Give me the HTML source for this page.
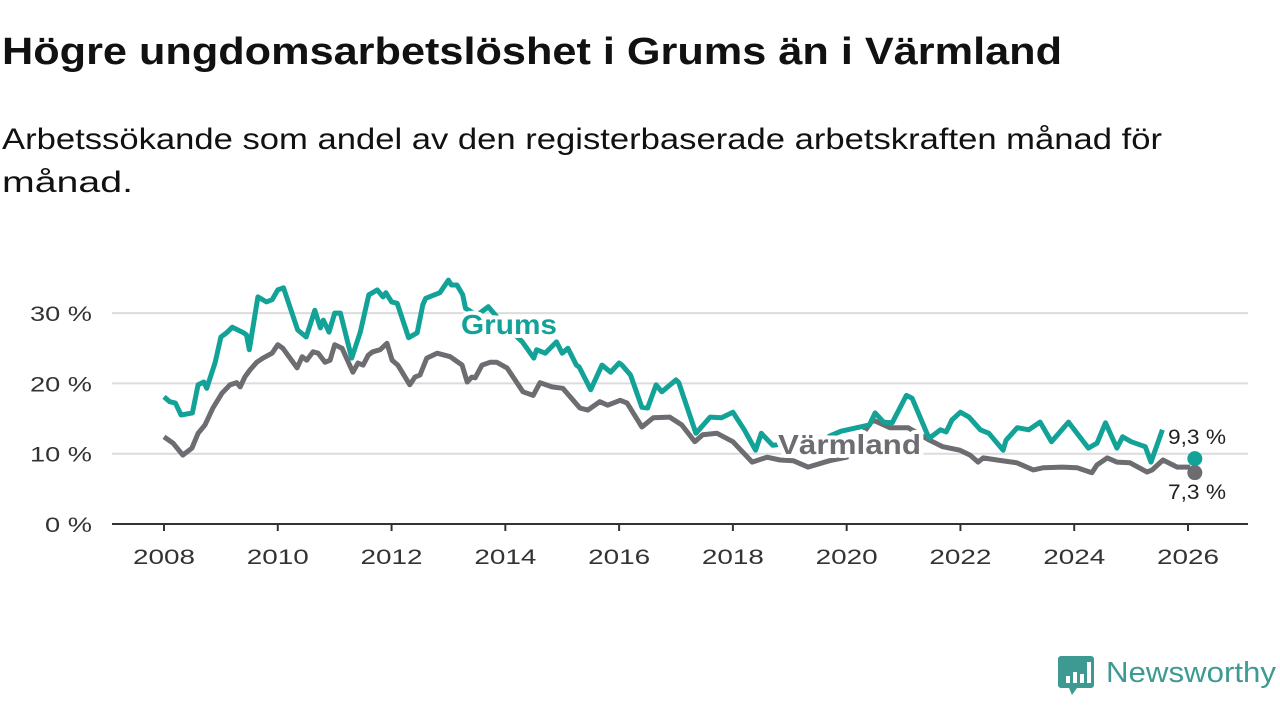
<!DOCTYPE html>
<html><head><meta charset="utf-8"><style>
html,body{margin:0;padding:0;background:#fff;width:1280px;height:720px;overflow:hidden}
svg text{font-family:"Liberation Sans",sans-serif}
</style></head><body>
<svg id="chart" width="1280" height="720" viewBox="0 0 1280 720" xmlns="http://www.w3.org/2000/svg">
<text x="2" y="64" font-size="38" font-weight="bold" fill="#111" textLength="1060" lengthAdjust="spacingAndGlyphs">Högre ungdomsarbetslöshet i Grums än i Värmland</text>
<text x="2" y="149" font-size="30" fill="#111" textLength="1160" lengthAdjust="spacingAndGlyphs">Arbetssökande som andel av den registerbaserade arbetskraften månad för</text>
<text x="2" y="192" font-size="30" fill="#111" textLength="131" lengthAdjust="spacingAndGlyphs">månad.</text>
<g id="grid"></g>
<g id="yaxis"></g>
<g id="xaxis"></g>
<g id="series"></g>
<g id="labels"></g>
<g>
<path d="M1061 656 h30 a3 3 0 0 1 3 3 v26 a3 3 0 0 1 -3 3 h-14 l-5 7 l-3 -7 h-8 a3 3 0 0 1 -3 -3 v-26 a3 3 0 0 1 3 -3z" fill="#3d9a93"/>
<rect x="1066" y="676" width="4" height="7" fill="#fff"/><rect x="1073" y="672" width="4" height="11" fill="#fff"/><rect x="1080" y="674" width="4" height="9" fill="#fff"/><rect x="1087" y="662" width="4" height="21" fill="#fff"/>
<text x="1106" y="682" font-size="29" fill="#3d9a93" textLength="170" lengthAdjust="spacingAndGlyphs">Newsworthy</text>
</g>
</svg>
<script>
const yTicks=[0,10,20,30];
const yTickLabels=["0 %","10 %","20 %","30 %"];
const xTicks=[2008,2010,2012,2014,2016,2018,2020,2022,2024,2026];
const grumsDates=[2008.0,2008.1,2008.2,2008.3,2008.5,2008.6,2008.7,2008.75,2008.9,2009.0,2009.1,2009.2,2009.3,2009.4,2009.45,2009.5,2009.65,2009.8,2009.9,2010.0,2010.1,2010.35,2010.5,2010.65,2010.75,2010.8,2010.9,2011.0,2011.1,2011.3,2011.45,2011.6,2011.75,2011.85,2011.9,2012.0,2012.1,2012.3,2012.45,2012.55,2012.6,2012.85,2013.0,2013.05,2013.15,2013.25,2013.3,2013.5,2013.7,2013.9,2014.3,2014.5,2014.55,2014.7,2014.9,2015.0,2015.1,2015.25,2015.3,2015.5,2015.7,2015.85,2016.0,2016.05,2016.2,2016.4,2016.5,2016.65,2016.75,2017.0,2017.05,2017.35,2017.6,2017.8,2018.0,2018.2,2018.4,2018.5,2018.7,2019.0,2019.4,2019.7,2019.9,2020.4,2020.5,2020.65,2020.8,2021.05,2021.15,2021.4,2021.45,2021.65,2021.75,2021.85,2022.0,2022.15,2022.35,2022.5,2022.75,2022.8,2023.0,2023.2,2023.4,2023.6,2023.9,2024.25,2024.4,2024.55,2024.75,2024.85,2025.0,2025.25,2025.35,2025.55];
const grumsValues=[18.1,17.4,17.2,15.5,15.8,19.8,20.2,19.3,23.0,26.6,27.2,28.0,27.6,27.2,26.9,24.8,32.3,31.6,31.9,33.3,33.6,27.6,26.6,30.4,27.9,29.0,27.3,30.0,30.0,23.6,27.3,32.6,33.3,32.3,32.9,31.6,31.4,26.5,27.2,31.2,32.1,32.9,34.7,34.0,34.0,32.6,30.7,29.7,30.9,29.0,25.9,23.6,24.8,24.3,25.9,24.3,25.0,22.6,22.3,19.1,22.6,21.6,22.9,22.6,21.2,16.6,16.5,19.8,18.8,20.5,20.1,12.9,15.2,15.1,15.9,13.4,10.5,12.9,11.2,11.5,11.0,12.5,13.2,14.1,15.8,14.5,14.4,18.3,17.9,13.1,12.2,13.4,13.1,14.8,15.9,15.2,13.4,12.9,10.5,11.9,13.7,13.4,14.5,11.7,14.5,10.8,11.5,14.4,10.8,12.4,11.7,11.0,8.8,13.4];
const grumsLast=[2026.12,9.3];
const varmDates=[2008.0,2008.16,2008.33,2008.49,2008.6,2008.72,2008.86,2009.02,2009.16,2009.28,2009.34,2009.42,2009.51,2009.63,2009.74,2009.9,2010.0,2010.09,2010.34,2010.43,2010.51,2010.62,2010.71,2010.83,2010.92,2011.0,2011.13,2011.32,2011.41,2011.5,2011.59,2011.67,2011.8,2011.92,2012.01,2012.11,2012.32,2012.41,2012.5,2012.62,2012.8,2013.03,2013.24,2013.33,2013.41,2013.47,2013.59,2013.73,2013.85,2014.03,2014.31,2014.49,2014.61,2014.82,2015.01,2015.31,2015.45,2015.66,2015.8,2016.02,2016.14,2016.4,2016.6,2016.89,2017.1,2017.33,2017.47,2017.72,2018.0,2018.34,2018.6,2018.83,2019.06,2019.32,2019.7,2020.0,2020.25,2020.46,2020.76,2021.08,2021.46,2021.69,2021.99,2022.17,2022.31,2022.4,2022.64,2022.99,2023.28,2023.45,2023.8,2024.05,2024.31,2024.4,2024.58,2024.75,2024.98,2025.28,2025.37,2025.56,2025.81,2026.04];
const varmValues=[12.4,11.5,9.8,10.8,12.9,14.1,16.5,18.6,19.8,20.1,19.5,20.9,21.9,23.0,23.6,24.3,25.5,25.0,22.2,23.8,23.3,24.5,24.3,23.0,23.3,25.5,25.0,21.6,22.9,22.6,24.0,24.5,24.8,25.7,23.3,22.6,19.8,20.9,21.2,23.6,24.3,23.8,22.6,20.2,20.9,20.8,22.6,23.0,23.0,22.2,18.8,18.3,20.1,19.5,19.3,16.5,16.2,17.4,16.9,17.6,17.2,13.8,15.1,15.2,14.1,11.7,12.7,12.9,11.7,8.8,9.5,9.1,9.0,8.1,9.0,9.5,12.5,14.8,13.7,13.7,11.9,11.0,10.5,9.8,8.8,9.4,9.1,8.7,7.7,8.0,8.1,8.0,7.3,8.4,9.4,8.8,8.7,7.4,7.7,9.1,8.1,8.1];
const varmLast=[2026.12,7.3];
const TEAL="#13a297",GREY="#6d6c71";
const NS="http://www.w3.org/2000/svg";
const x=yr=>164+(yr-2008)*(1024/18);
const y=v=>524-v*7.03;
function mk(tag,parent,attrs){const e=document.createElementNS(NS,tag);for(const k in attrs)e.setAttribute(k,attrs[k]);parent.appendChild(e);return e;}
const grid=document.getElementById('grid'),ya=document.getElementById('yaxis'),xa=document.getElementById('xaxis'),ser=document.getElementById('series'),lab=document.getElementById('labels');
yTicks.forEach((t,i)=>{
  if(t>0){const l=mk('line',grid,{x1:112,x2:1248,y1:y(t),y2:y(t),stroke:'#dcdcdc','stroke-width':2});
  
  }
  const lbl=yTickLabels[i];
  const tx=mk('text',ya,{x:92,y:y(t)+8,'text-anchor':'end','font-size':21,fill:'#333',textLength:lbl.length>3?62:47,lengthAdjust:'spacingAndGlyphs'});tx.textContent=lbl;
  
  
});
const ax=mk('line',xa,{x1:112,x2:1248,y1:524,y2:524,stroke:'#333','stroke-width':2});


xTicks.forEach(t=>{
  const tk=mk('line',xa,{x1:x(t),x2:x(t),y1:524,y2:531,stroke:'#333','stroke-width':2});
  
  
  const tx=mk('text',xa,{x:x(t),y:564,'text-anchor':'middle','font-size':21,fill:'#333',textLength:62,lengthAdjust:'spacingAndGlyphs'});tx.textContent=t;
  
  
});
function path(d,v){return d.map((t,i)=>(i?'L':'M')+x(t).toFixed(1)+','+y(v[i]).toFixed(1)).join('');}
const pv=mk('path',ser,{d:path(varmDates,varmValues),fill:'none',stroke:GREY,'stroke-width':5,'stroke-linejoin':'round'});


const pg=mk('path',ser,{d:path(grumsDates,grumsValues),fill:'none',stroke:TEAL,'stroke-width':5,'stroke-linejoin':'round'});


const dv=mk('circle',ser,{cx:x(varmLast[0]),cy:y(varmLast[1]),r:7.5,fill:GREY});


const dg=mk('circle',ser,{cx:x(grumsLast[0]),cy:y(grumsLast[1]),r:7.5,fill:TEAL});


function label(txt,xx,yy,col,bold,w,name){
  const fs=bold?28:21;
  const h=mk('text',lab,{x:xx,y:yy,'font-size':fs,'font-weight':bold?'bold':'normal',fill:'#fff',stroke:'#fff','stroke-width':8,'stroke-linejoin':'round',textLength:w,lengthAdjust:'spacingAndGlyphs'});h.textContent=txt;
  
  
  const t=mk('text',lab,{x:xx,y:yy,'font-size':fs,'font-weight':bold?'bold':'normal',fill:col,textLength:w,lengthAdjust:'spacingAndGlyphs'});t.textContent=txt;
  
  
}
label('Grums',461,334,TEAL,true,96,'grums-label');
label('Värmland',778,454,GREY,true,143,'varmland-label');
label('9,3 %',1168,444,'#222',false,58,'grums-value-label');
label('7,3 %',1168,499,'#222',false,58,'varmland-value-label');
</script>
</body></html>
